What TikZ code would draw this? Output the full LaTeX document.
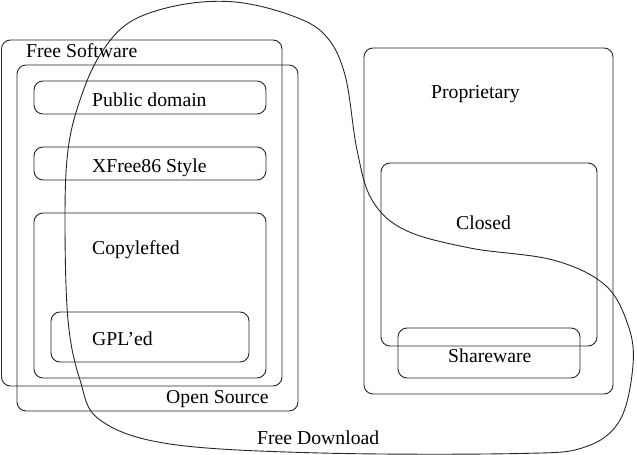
\documentclass[tikz,border=0pt]{standalone}
\usepackage{fontspec}
\setmainfont{Liberation Serif}
\begin{document}
\begin{tikzpicture}[x=1pt,y=1pt,
  box/.style={draw=black!85, line width=0.9pt, rounded corners=9pt, inner sep=0pt, outer sep=0pt},
  lbl/.style={anchor=base west, inner sep=0pt, font=\fontsize{19.7}{23}\selectfont}]
\useasboundingbox (0,0) rectangle (637,455);
% boxes
\node[box, minimum width=280.5, minimum height=346] (free) at (141.75,242) {};
\node[box, minimum width=281, minimum height=346] (open) at (157.5,217) {};
\node[box, minimum width=232, minimum height=33] (pub) at (150,357.5) {};
\node[box, minimum width=232, minimum height=33] (xf) at (150,291.5) {};
\node[box, minimum width=232, minimum height=165] (copy) at (150,159.5) {};
\node[box, minimum width=198, minimum height=50] (gpl) at (150,118) {};
\node[box, minimum width=249, minimum height=346] (prop) at (488.5,234) {};
\node[box, minimum width=216, minimum height=183] (closed) at (489,200.5) {};
\node[box, minimum width=182, minimum height=50] (share) at (489,102) {};
% labels
\node[lbl] (tfree) at (26,397) {Free Software};
\node[lbl] (tpub) at (92,348) {Public domain};
\node[lbl] (txf) at (92,282) {XFree86 Style};
\node[lbl] (tcopy) at (92,200) {Copylefted};
\node[lbl] (tgpl) at (92,109) {GPL’ed};
\node[lbl] (topen) at (166,51) {Open Source};
\node[lbl] (tdl) at (257,10) {Free Download};
\node[lbl] (tprop) at (431,356) {Proprietary};
\node[lbl] (tclosed) at (456,225) {Closed};
\node[lbl] (tshare) at (448,92) {Shareware};
% free download curve
\draw[black!85, line width=0.9pt] plot[smooth cycle, tension=0.6] coordinates {
  (65,235) (68,305) (80,355) (100,400) (130,433) (180,450) (235,453)
  (290,440) (325,420) (345,380) (357,305) (372,255) (405,225) (470,207)
  (553,195) (605,170) (628,130) (633,90) (620,35) (585,8) (520,1.5)
  (320,2) (170,11) (100,35) (80,75) (68,135)};
\end{tikzpicture}
\end{document}
